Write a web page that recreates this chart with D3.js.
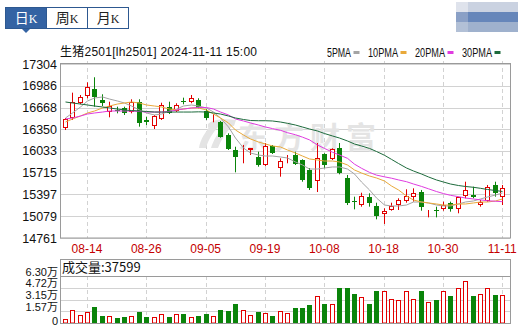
<!DOCTYPE html>
<html>
<head>
<meta charset="utf-8">
<script src="https://cdn.jsdelivr.net/npm/d3@7"></script>
<style>
body { margin: 0; background: #fff; }
svg { display: block; }
</style>
</head>
<body>
<svg width="518" height="330"></svg>
<script>
// trading days shown (MM-DD)
const dates = ["08-09","08-12","08-13","08-14","08-15","08-16","08-19","08-20","08-21","08-22",
  "08-23","08-26","08-27","08-28","08-29","08-30","09-02","09-03","09-04","09-05",
  "09-06","09-09","09-10","09-11","09-12","09-13","09-18","09-19","09-20","09-23",
  "09-24","09-25","09-26","09-27","09-30","10-08","10-09","10-10","10-11","10-14",
  "10-15","10-16","10-17","10-18","10-21","10-22","10-23","10-24","10-25","10-28",
  "10-29","10-30","10-31","11-01","11-04","11-05","11-06","11-07","11-08","11-11"];

const open = [16364,16510,16730,16836,16934,16778,16607,16638,16656,16598,
  16753,16485,16398,16496,16680,16617,16756,16744,16778,16617,
  16519,16452,16266,16047,15998,16047,15949,15828,16105,15780,
  15925,15974,15901,15755,15594,15984,15911,16072,15643,15302,
  15243,15365,15229,15107,15170,15243,15306,15365,15438,15126,
  15165,15185,15268,15180,15380,15390,15243,15306,15536,15365];
const high = [16515,16885,16851,17036,17110,16861,16753,16680,16680,16788,
  16788,16534,16559,16738,16753,16730,16812,16851,16803,16646,
  16569,16471,16291,16095,16120,16076,16022,16149,16120,15926,
  15974,16022,15911,15784,16149,15999,16072,16149,15682,15365,
  15423,15414,15277,15195,15277,15341,15473,15487,15463,15170,
  15219,15292,15292,15365,15584,15511,15316,15536,15584,15536];
const low = [16339,16486,16715,16803,16680,16690,16525,16583,16559,16583,
  16388,16412,16354,16486,16573,16602,16715,16730,16656,16486,
  16452,16227,16047,15721,15853,15974,15803,15813,15989,15657,
  15853,15828,15584,15463,15433,15780,15901,15692,15243,15180,
  15219,15219,15034,14966,15160,15170,15277,15292,15160,15063,
  15063,15160,15146,15122,15341,15341,15219,15292,15365,15243];
const close = [16496,16744,16826,16972,16826,16730,16695,16624,16583,16753,
  16437,16452,16544,16705,16592,16705,16744,16812,16665,16510,
  16532,16241,16062,15949,16013,16072,15828,16105,16008,15891,
  15935,15838,15609,15487,15926,15828,16057,15707,15277,15287,
  15375,15277,15087,15160,15229,15316,15380,15424,15219,15136,
  15155,15243,15180,15365,15463,15356,15292,15502,15424,15487];

const volume = [5800,18000,11300,14900,21600,9900,9900,6300,8500,9900,
  15300,7700,7700,12200,8500,12200,12200,8500,9900,12600,
  9900,17100,15800,24800,18000,10400,14400,13500,9900,16700,
  14000,20300,20300,24300,36500,26100,26100,46400,47300,38300,
  35100,26100,42300,42300,32400,31100,43200,32400,42300,28800,
  30200,42300,35600,46400,56700,35600,38300,46400,36900,37599];

const ma5 = [16515,16588,16676,16763,16807,16822,16792,16763,16734,16690,
  16632,16588,16559,16573,16617,16646,16690,16705,16690,16661,
  16602,16515,16383,16222,16076,16003,15974,15959,15959,15945,
  15930,15872,15828,15769,15769,15784,15799,15799,15769,15696,
  15579,15463,15346,15243,15229,15229,15243,15287,15287,15273,
  15243,15229,15229,15258,15287,15302,15331,15360,15389,15419];
const ma10 = [16456,16500,16544,16588,16617,16661,16690,16719,16734,16749,
  16734,16705,16690,16676,16646,16632,16646,16661,16661,16632,
  16573,16515,16442,16339,16266,16208,16164,16135,16106,16091,
  16047,16003,15959,15916,15901,15886,15886,15872,15828,15755,
  15711,15667,15638,15594,15521,15463,15375,15316,15287,15273,
  15258,15243,15243,15258,15258,15273,15287,15287,15302,15331];
const ma20 = [16500,16515,16544,16573,16588,16602,16617,16617,16617,16617,
  16610,16602,16602,16602,16610,16632,16646,16661,16668,16668,
  16646,16602,16559,16500,16471,16442,16412,16383,16360,16335,
  16300,16270,16235,16195,16120,16070,16015,15974,15925,15840,
  15780,15720,15680,15655,15635,15610,15584,15550,15515,15480,
  15440,15410,15385,15365,15345,15331,15318,15306,15298,15292];
const ma30 = [16749,16734,16719,16705,16690,16676,16661,16646,16632,16624,
  16617,16610,16602,16602,16602,16602,16602,16602,16605,16602,
  16588,16573,16544,16515,16493,16478,16475,16475,16471,16456,
  16437,16412,16383,16354,16325,16288,16252,16222,16179,16135,
  16106,16070,16025,15970,15910,15850,15784,15740,15696,15653,
  15609,15579,15550,15528,15514,15502,15487,15470,15455,15441];

const yTicks = [17304,16986,16668,16350,16033,15715,15397,15079,14761];
const xTickLabels = ["08-14","08-26","09-05","09-19","10-08","10-18","10-30","11-11"];
const volTicks = [63000,47250,31500,15750,0];
const volTickLabels = ["6.30万","4.72万","3.15万","1.57万","0"];
const maNames = ["5PMA","10PMA","20PMA","30PMA"];

const RED = "#e20000", GREEN = "#0a840a", GRID = "#d2d2d2", BORDER = "#9a9a9a";
const maColors = ["#a4a4a4","#e9a93a","#e03ce0","#1d6b3c"];

const svg = d3.select("svg");
const pLeft = 60, pRight = 510, pTop = 64, pBottom = 238;
const vTop = 276, vBottom = 323, vBoxTop = 259;

const x = d3.scaleBand().domain(dates).range([61, 506]);
const cx = d => Math.round(x(d) + x.bandwidth() / 2) + 0.5;
const y = d3.scaleLinear().domain([14761, 17304]).range([pBottom, pTop]);
const yv = d3.scaleLinear().domain([0, 63000]).range([vBottom, vTop]);

// ---- tabs (日K 周K 月K)
const tabs = ["日", "周", "月"];
const tab = svg.append("g");
tabs.forEach((t, i) => {
  const tx = 5.5 + i * 41;
  tab.append("rect").attr("x", tx).attr("y", 7.5).attr("width", 41).attr("height", 21)
    .attr("fill", i == 0 ? "#3463a3" : "#fff").attr("stroke", "#2d5890");
  const txt = tab.append("text").attr("x", tx + 20.5).attr("y", 23).attr("text-anchor", "middle")
    .attr("fill", i == 0 ? "#fff" : "#222");
  txt.append("tspan").attr("font-family", "Noto Sans CJK SC").attr("font-size", 14).text(t);
  txt.append("tspan").attr("font-family", "Liberation Serif").attr("font-size", 12).text("K");
});
tab.append("path").attr("d", "M22,29 L30,29 L26,33 Z").attr("fill", "#3463a3");

// blurred picture in the top right corner
const blur = [["#dfe3ec", 456, 2, 12, 10], ["#cad2e1", 468, 2, 50, 10],
  ["#8aa0c6", 456, 12, 12, 10], ["#6686ba", 468, 12, 50, 10],
  ["#b2c0d6", 456, 22, 12, 10], ["#9fb1cd", 468, 22, 50, 10]];
blur.forEach(b => svg.append("rect").attr("fill", b[0]).attr("x", b[1]).attr("y", b[2])
  .attr("width", b[3]).attr("height", b[4]));

// ---- title
svg.append("text").attr("x", 60).attr("y", 56).attr("font-size", 12)
  .attr("font-family", "Liberation Sans, Noto Sans CJK SC").attr("fill", "#111")
  .attr("textLength", 197).attr("lengthAdjust", "spacing")
  .text("生猪2501[lh2501] 2024-11-11 15:00");

// ---- legend
let lx = 327;
maNames.forEach((n, i) => {
  const w = n.length * 6;
  svg.append("text").attr("x", lx).attr("y", 56.5).attr("font-size", 12)
    .attr("font-family", "Liberation Sans").attr("fill", "#111")
    .attr("textLength", w).attr("lengthAdjust", "spacingAndGlyphs").text(n);
  svg.append("rect").attr("x", lx + w + 2.5).attr("y", 51).attr("width", 6).attr("height", 3)
    .attr("fill", maColors[i]);
  lx += w + 17;
});

// ---- gridlines main
svg.append("g").selectAll("line").data(yTicks).join("line")
  .attr("x1", pLeft).attr("x2", pRight)
  .attr("y1", d => Math.round(y(d)) + 0.5).attr("y2", d => Math.round(y(d)) + 0.5)
  .attr("stroke", GRID);
svg.append("g").selectAll("line").data(xTickLabels).join("line")
  .attr("x1", cx).attr("x2", cx).attr("y1", pTop - 3).attr("y2", pBottom)
  .attr("stroke", GRID).attr("stroke-dasharray", "4,3");

// watermark
const wm = svg.append("g").attr("fill", "#e4e4e4");
wm.append("path").attr("d", "M214,122 C206,130 200,140 199,148 L206,148 C208,140 214,130 222,123 Z");
wm.append("path").attr("d", "M226,122 C218,132 213,141 211,148 L218,148 C221,140 227,131 234,124 Z");
wm.append("path").attr("d", "M208,124 C212,120 222,118 236,120 L234,126 C224,124 214,124 208,128 Z");
wm.append("text").attr("x", 238).attr("y", 148).attr("font-size", 30).attr("font-weight", "bold")
  .attr("font-family", "Noto Sans CJK SC").attr("letter-spacing", 6).text("东方财富");

// ---- y axis labels
const yAxis = svg.append("g").attr("transform", `translate(${pLeft},0)`)
  .call(d3.axisLeft(y).tickValues(yTicks).tickSize(0).tickPadding(3).tickFormat(d3.format("d")));
yAxis.select(".domain").remove();
yAxis.selectAll("text").attr("font-size", 12.5).attr("font-family", "Liberation Sans").attr("fill", "#111");

// ---- x axis labels
const xAxis = svg.append("g").attr("transform", `translate(0,${pBottom})`)
  .call(d3.axisBottom(x).tickValues(xTickLabels).tickSize(0).tickPadding(6));
xAxis.select(".domain").remove();
xAxis.selectAll("text").attr("font-size", 12).attr("font-family", "Liberation Sans").attr("fill", "#c40000");

// ---- candles
const idx = d3.range(dates.length);
const candles = svg.append("g");
idx.forEach(i => {
  const up = close[i] >= open[i];
  const c = up ? RED : GREEN;
  const xc = cx(dates[i]);
  candles.append("line").attr("x1", xc).attr("x2", xc)
    .attr("y1", y(high[i])).attr("y2", y(low[i])).attr("stroke", c);
  const yt = Math.round(y(Math.max(open[i], close[i])));
  const yb = Math.max(Math.round(y(Math.min(open[i], close[i]))), yt + 1);
  if (up) {
    candles.append("rect").attr("x", xc - 2).attr("y", yt + 0.5).attr("width", 4)
      .attr("height", Math.max(yb - yt - 1, 0)).attr("fill", "#fff").attr("stroke", c);
  } else {
    candles.append("rect").attr("x", xc - 2.5).attr("y", yt).attr("width", 5)
      .attr("height", yb - yt).attr("fill", c);
  }
});

// ---- moving averages
[ma5, ma10, ma20, ma30].forEach((m, k) => {
  svg.append("path").datum(m)
    .attr("d", d3.line().x((d, i) => cx(dates[i])).y(d => y(d)))
    .attr("fill", "none").attr("stroke", maColors[k]).attr("stroke-width", 1);
});

// main border
svg.append("rect").attr("x", pLeft + 0.5).attr("y", pTop - 0.5).attr("width", pRight - pLeft)
  .attr("height", pBottom - pTop + 0.5).attr("fill", "none").attr("stroke", BORDER);

// ---- volume panel
svg.append("g").selectAll("line").data(volTicks.slice(1, 4)).join("line")
  .attr("x1", pLeft).attr("x2", pRight)
  .attr("y1", d => Math.round(yv(d)) + 0.5).attr("y2", d => Math.round(yv(d)) + 0.5)
  .attr("stroke", GRID);
svg.append("g").selectAll("line").data(xTickLabels).join("line")
  .attr("x1", cx).attr("x2", cx).attr("y1", vTop).attr("y2", vBottom)
  .attr("stroke", GRID).attr("stroke-dasharray", "4,3");

const vols = svg.append("g");
idx.forEach(i => {
  const up = close[i] >= open[i];
  const xc = cx(dates[i]);
  const yt = Math.round(yv(volume[i]));
  if (up) {
    vols.append("rect").attr("x", xc - 2).attr("y", yt + 0.5).attr("width", 4)
      .attr("height", vBottom - yt - 0.5).attr("fill", "#fff").attr("stroke", RED);
  } else {
    vols.append("rect").attr("x", xc - 2.5).attr("y", yt).attr("width", 5)
      .attr("height", vBottom - yt).attr("fill", GREEN);
  }
});

svg.append("rect").attr("x", pLeft + 0.5).attr("y", vBoxTop + 0.5).attr("width", pRight - pLeft)
  .attr("height", vBottom - vBoxTop).attr("fill", "none").attr("stroke", BORDER);
svg.append("line").attr("x1", pLeft).attr("x2", pRight).attr("y1", vTop + 0.5).attr("y2", vTop + 0.5)
  .attr("stroke", BORDER);

svg.append("text").attr("x", 62).attr("y", 272).attr("font-size", 13)
  .attr("font-family", "Noto Sans CJK SC, Liberation Sans").attr("fill", "#111")
  .text("成交量:" + volume[volume.length - 1]);

svg.append("g").selectAll("text").data(volTicks).join("text")
  .attr("x", 58).attr("y", (d, i) => yv(d) + (i == 4 ? 1.5 : -0.5))
  .attr("text-anchor", "end").attr("font-size", 11)
  .attr("font-family", "Liberation Sans, Noto Sans CJK SC").attr("fill", "#111")
  .text((d, i) => volTickLabels[i]);
</script>
</body>
</html>
